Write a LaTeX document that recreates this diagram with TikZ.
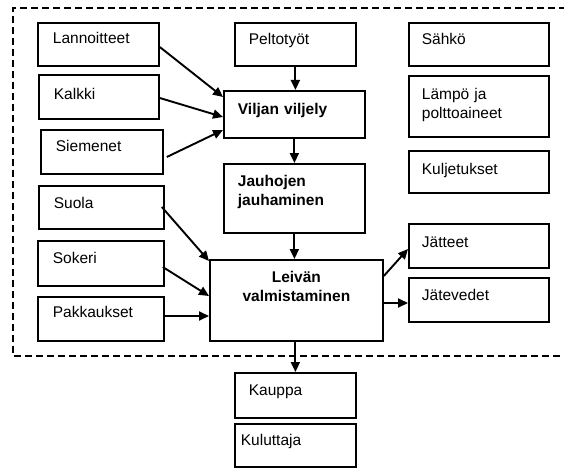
\documentclass[tikz,border=0pt]{standalone}
\usepackage{fontspec}
\setmainfont{Liberation Sans}
\usetikzlibrary{arrows.meta,calc}
\begin{document}
\begin{tikzpicture}[x=1pt,y=-1pt,
  % box: text width, side padding, first baseline from top, rest of height
  cell/.style n args={4}{draw, line width=1.8pt, anchor=north west,
    inner ysep=0pt, inner xsep=#2, text width=#1, text height=#3,
    text depth=#4, align=left,
    font=\fontsize{15.5}{18.5}\selectfont},
  strong/.style={font=\fontsize{15.5}{18.5}\selectfont\bfseries},
  flow/.style={line width=1.9pt, -{Triangle[length=10pt,width=9pt]}},
  boundary/.style={line width=1.4pt, dash pattern=on 7pt off 4pt}]
\useasboundingbox (0,0) rectangle (564,468);

% system boundary
\draw[boundary] (566,8) -- (13,8) -- (13,356) -- (566,356);

% inputs on the left
\node[cell={91pt}{15pt}{21pt}{22pt}] (lan) at (37,22) {Lannoitteet};
\node[cell={90pt}{15pt}{25pt}{19pt}] (kal) at (38,74) {Kalkki};
\node[cell={92pt}{15pt}{22pt}{22pt}] (sie) at (40,129) {Siemenet};
\node[cell={95pt}{15pt}{23pt}{20pt}] (suo) at (38,185) {Suola};
\node[cell={96pt}{15pt}{23pt}{22pt}] (sok) at (37,240) {Sokeri};
\node[cell={96pt}{15pt}{21pt}{23pt}] (pak) at (37,296) {Pakkaukset};

% process chain
\node[cell={93pt}{14pt}{22pt}{21pt}] (pel) at (234,22) {Peltotyöt};
\node[cell={113pt}{14pt}{24pt}{23pt}, strong] (vil) at (223,90) {Viljan viljely};
\node[cell={113pt}{14pt}{23pt}{46pt}, strong] (jau) at (223,163) {Jauhojen\\jauhaminen};
\node[cell={153pt}{10pt}{23pt}{58pt}, strong, align=center] (lei) at (209,259) {Leivän\\valmistaminen};

% right column
\node[cell={114pt}{13pt}{22pt}{21pt}] (sah) at (408,22) {Sähkö};
\node[cell={114pt}{13pt}{24pt}{37pt}] (lam) at (408,75) {Lämpö ja\\polttoaineet};
\node[cell={114pt}{13pt}{24pt}{18pt}] (kul) at (408,150) {Kuljetukset};
\node[cell={114pt}{13pt}{24pt}{20pt}] (jat) at (408,223) {Jätteet};
\node[cell={114pt}{13pt}{23pt}{21pt}] (jtv) at (408,277) {Jätevedet};

% outside the boundary
\node[cell={93pt}{14pt}{23pt}{22pt}] (kau) at (234,372) {Kauppa};
\node[cell={109pt}{6pt}{22pt}{21pt}] (klu) at (234,423) {Kuluttaja};

% flows into cultivation
\draw[flow] ($(lan.north east)+(0,25)$) -- ($(vil.north west)+(0,7)$);
\draw[flow] ($(kal.north east)+(0,24)$) -- ($(vil.north west)+(0,27)$);
\draw[flow] ($(sie.north east)+(3,28)$) -- ($(vil.north west)+(0,40)$);
\draw[flow] (pel.south) -- (pel.south |- vil.north);
\draw[flow] (vil.south) -- (vil.south |- jau.north);
\draw[flow] (jau.south) -- (jau.south |- lei.north);

% flows into baking
\draw[flow] ($(suo.north east)+(-3,22)$) -- ($(lei.north west)+(0,2)$);
\draw[flow] ($(sok.north east)+(-2,27)$) -- ($(lei.north west)+(0,37)$);
\draw[flow] ($(pak.north east)+(0,20)$) -- ($(lei.north west)+(0,57)$);

% outputs
\draw[flow] ($(lei.north east)+(0,17)$) -- ($(jat.north west)+(0,26)$);
\draw[flow] ($(lei.north east)+(0,44)$) -- ($(jtv.north west)+(0,26)$);
\draw[flow] (lei.south -| kau.north) -- (kau.north);
\end{tikzpicture}
\end{document}
